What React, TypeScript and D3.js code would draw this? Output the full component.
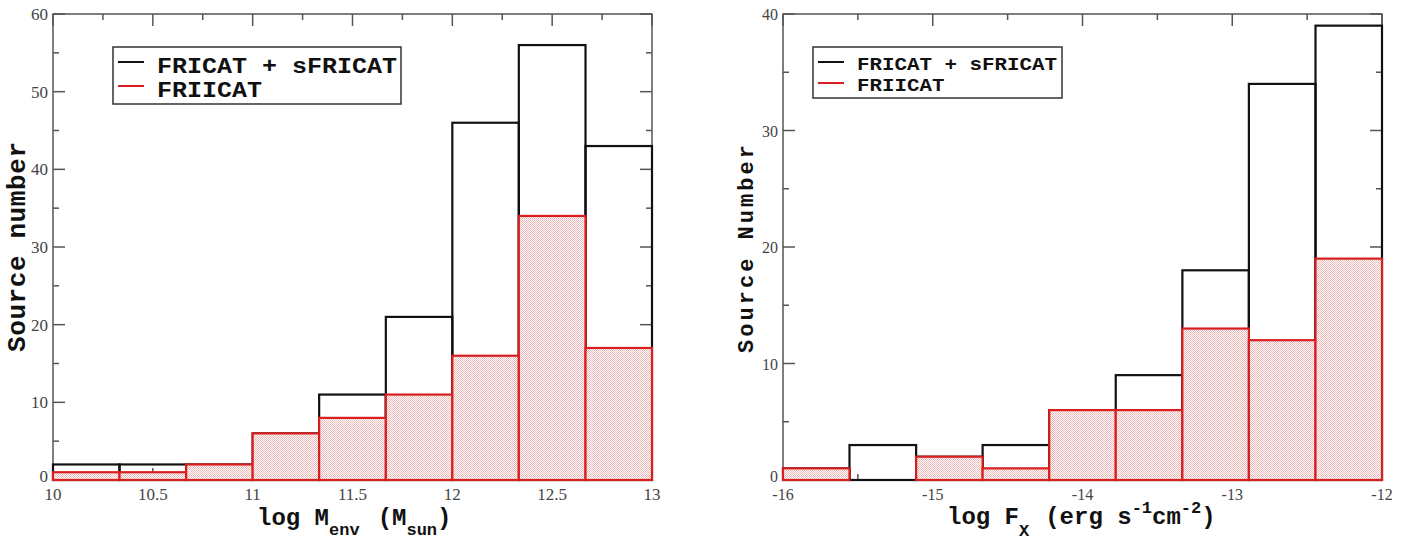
import React from "react";
import * as d3 from "d3";

// left panel: log M_env
const envEdges = [10, 10.333, 10.667, 11, 11.333, 11.667, 12, 12.333, 12.667, 13];
const envFRI = [2, 2, 2, 6, 11, 21, 46, 56, 43];
const envFRII = [1, 1, 2, 6, 8, 11, 16, 34, 17];
const envXTicks = [10, 10.5, 11, 11.5, 12, 12.5, 13];
const envYTicks = [0, 10, 20, 30, 40, 50, 60];

// right panel: log F_X
const fxEdges = [-16, -15.556, -15.111, -14.667, -14.222, -13.778, -13.333, -12.889, -12.444, -12];
const fxFRI = [1, 3, 2, 3, 6, 9, 18, 34, 39];
const fxFRII = [1, 0, 2, 1, 6, 6, 13, 12, 19];
const fxXTicks = [-16, -15, -14, -13, -12];
const fxYTicks = [0, 10, 20, 30, 40];

const legendLabels = ["FRICAT + sFRICAT", "FRIICAT"];

const RED = "#d81e1e";
const AXIS = "#555";
const MONO = "'Liberation Mono', 'Courier New', monospace";
const SERIF = "'Liberation Serif', 'Times New Roman', serif";

const top = 14;
const bottom = 480;

const Panel = ({ id, left, right, edges, fri, frii, xTicks, yTicks, legend, tickFs }) => {
  const x = d3.scaleLinear().domain([edges[0], edges[edges.length - 1]]).range([left, right]);
  const y = d3.scaleLinear().domain([0, yTicks[yTicks.length - 1]]).range([bottom, top]);

  const xMinor = xTicks.slice(1).map((t, i) => (t + xTicks[i]) / 2);
  const yMinor = yTicks.slice(1).map((t, i) => (t + yTicks[i]) / 2);
  const major = 12;
  const minor = 6;

  const bins = fri.map((v, i) => ({ x0: edges[i], x1: edges[i + 1], fri: v, frii: frii[i] }));

  return (
    <g>
      <defs>
        <pattern id={id} width={2} height={2} patternUnits="userSpaceOnUse">
          <rect width={2} height={2} fill="#fff" />
          <rect x={0} y={0} width={1} height={1} fill="#eeb8b8" />
          <rect x={1} y={1} width={1} height={1} fill="#eeb8b8" />
        </pattern>
      </defs>

      {/* frame */}
      <rect x={left} y={top} width={right - left} height={bottom - top} fill="none" stroke={AXIS} strokeWidth={1.5} />

      {/* ticks, all pointing inwards */}
      {xTicks.map((t) => (
        <g key={"xt" + t} stroke={AXIS} strokeWidth={1.5}>
          <line x1={x(t)} x2={x(t)} y1={bottom} y2={bottom - major} />
          <line x1={x(t)} x2={x(t)} y1={top} y2={top + major} />
        </g>
      ))}
      {xMinor.map((t) => (
        <g key={"xm" + t} stroke={AXIS} strokeWidth={1.5}>
          <line x1={x(t)} x2={x(t)} y1={bottom} y2={bottom - minor} />
          <line x1={x(t)} x2={x(t)} y1={top} y2={top + minor} />
        </g>
      ))}
      {yTicks.map((t) => (
        <g key={"yt" + t} stroke={AXIS} strokeWidth={1.5}>
          <line x1={left} x2={left + major} y1={y(t)} y2={y(t)} />
          <line x1={right} x2={right - major} y1={y(t)} y2={y(t)} />
        </g>
      ))}
      {yMinor.map((t) => (
        <g key={"ym" + t} stroke={AXIS} strokeWidth={1.5}>
          <line x1={left} x2={left + minor} y1={y(t)} y2={y(t)} />
          <line x1={right} x2={right - minor} y1={y(t)} y2={y(t)} />
        </g>
      ))}

      {/* tick labels */}
      {xTicks.map((t) => (
        <text key={"xl" + t} x={x(t)} y={bottom + 20} textAnchor="middle" fontFamily={SERIF} fontSize={tickFs} fill="#444">
          {t}
        </text>
      ))}
      {yTicks.map((t) => (
        <text key={"yl" + t} x={left - 5} y={t === 0 ? y(t) + 2 : y(t) + 6} textAnchor="end" fontFamily={SERIF} fontSize={tickFs} fill="#444">
          {t}
        </text>
      ))}

      {/* histogram: total outline, then FRII filled on top */}
      {bins.map((b, i) => (
        <rect key={"b" + i} x={x(b.x0)} y={y(b.fri)} width={x(b.x1) - x(b.x0)} height={y(0) - y(b.fri)} fill="none" stroke="#111" strokeWidth={2.2} />
      ))}
      {bins.map((b, i) => (
        <rect key={"r" + i} x={x(b.x0)} y={y(b.frii)} width={x(b.x1) - x(b.x0)} height={y(0) - y(b.frii)} fill={`url(#${id})`} stroke={RED} strokeWidth={2.2} />
      ))}

      {/* legend */}
      <rect x={legend.x} y={legend.y} width={legend.w} height={legend.h} fill="#fff" stroke="#333" strokeWidth={1.5} />
      {legendLabels.map((lab, i) => (
        <g key={lab}>
          <line x1={legend.x + 5} x2={legend.x + 31} y1={legend.y + 15 + i * legend.row} y2={legend.y + 15 + i * legend.row} stroke={i === 0 ? "#111" : RED} strokeWidth={2} />
          <text
            x={legend.x + 44}
            y={legend.y + legend.base + i * legend.row}
            fontFamily={MONO}
            fontWeight="bold"
            fontSize={legend.fs}
            textLength={lab.length * legend.cw}
            lengthAdjust="spacingAndGlyphs"
            fill="#111"
          >
            {lab}
          </text>
        </g>
      ))}
    </g>
  );
};

export default function App() {
  return (
    <svg width={1422} height={548} style={{ position: "absolute", left: 0, top: 0, background: "#fff" }}>
      <Panel
        id="hatchL"
        left={53}
        right={652}
        edges={envEdges}
        fri={envFRI}
        frii={envFRII}
        xTicks={envXTicks}
        yTicks={envYTicks}
        tickFs={17}
        legend={{ x: 113, y: 47, w: 288, h: 57, row: 24, base: 26, fs: 22, cw: 15 }}
      />
      <Panel
        id="hatchR"
        left={783}
        right={1382}
        edges={fxEdges}
        fri={fxFRI}
        frii={fxFRII}
        xTicks={fxXTicks}
        yTicks={fxYTicks}
        tickFs={16}
        legend={{ x: 813, y: 47, w: 249, h: 51, row: 21, base: 23, fs: 19, cw: 12.5 }}
      />

      {/* axis titles */}
      <text transform="translate(25,247) rotate(-90)" textAnchor="middle" fontFamily={MONO} fontWeight="bold" fontSize={26} textLength={210} fill="#111">
        Source number
      </text>
      <text transform="translate(753,249) rotate(-90)" textAnchor="middle" fontFamily={MONO} fontWeight="bold" fontSize={22} textLength={208} fill="#111">
        Source Number
      </text>

      <text x={257} y={525} fontFamily={MONO} fontWeight="bold" fontSize={24} fill="#111">
        log M
        <tspan dy={10} fontSize={17}>env</tspan>
        <tspan dy={-10} dx={18}>(M</tspan>
        <tspan dy={10} fontSize={17}>sun</tspan>
        <tspan dy={-10}>)</tspan>
      </text>
      <text x={947} y={524} fontFamily={MONO} fontWeight="bold" fontSize={24} fill="#111">
        log F
        <tspan dy={12} fontSize={17}>X</tspan>
        <tspan dy={-12} dx={16}>(erg s</tspan>
        <tspan dy={-11} fontSize={17}>-1</tspan>
        <tspan dy={11}>cm</tspan>
        <tspan dy={-11} fontSize={17}>-2</tspan>
        <tspan dy={11}>)</tspan>
      </text>
    </svg>
  );
}
